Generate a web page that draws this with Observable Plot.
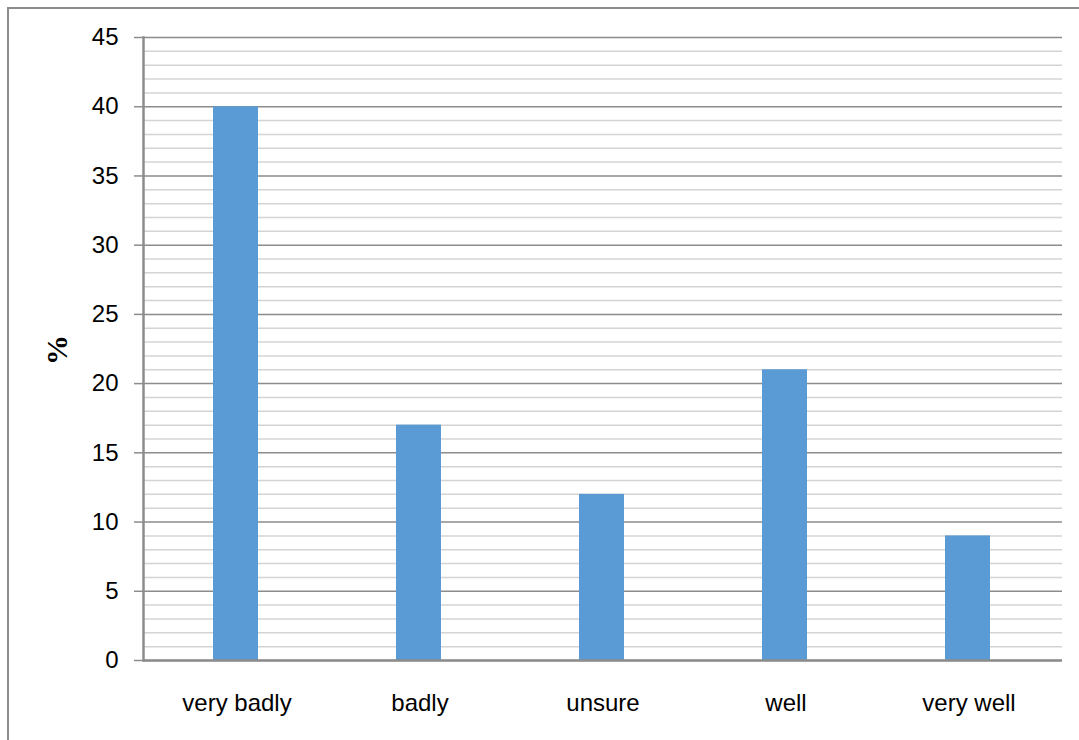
<!DOCTYPE html>
<html>
<head>
<meta charset="utf-8">
<script src="https://cdn.jsdelivr.net/npm/d3@7"></script>
<script src="https://cdn.jsdelivr.net/npm/@observablehq/plot@0.6"></script>
<style>
  html, body { margin: 0; padding: 0; background: #fff; overflow: hidden; width: 1079px; height: 740px; }
  #frame { position: absolute; left: 7px; top: 7px; width: 1200px; height: 900px; border: 2px solid #8c8c8c; box-sizing: border-box; }
  #chart { position: absolute; left: 0; top: 0; }
</style>
</head>
<body>
<div id="frame"></div>
<div id="chart"></div>
<script>
const categories = ["very badly", "badly", "unsure", "well", "very well"];
const values = [40, 17, 12, 21, 9];
const majorTicks = [0, 5, 10, 15, 20, 25, 30, 35, 40, 45];
const minorTicks = [1, 2, 3, 4, 6, 7, 8, 9, 11, 12, 13, 14, 16, 17, 18, 19, 21, 22, 23, 24, 26, 27, 28, 29, 31, 32, 33, 34, 36, 37, 38, 39, 41, 42, 43, 44];
const yLabel = "%";

const data = categories.map((c, i) => ({category: c, value: values[i]}));
const font = "'Liberation Sans', Arial, sans-serif";

const chart = Plot.plot({
  width: 1079,
  height: 740,
  marginLeft: 143,
  marginRight: 17,
  marginTop: 37,
  marginBottom: 80,
  style: {fontFamily: font, fontSize: "24px", color: "#000", background: "transparent"},
  x: {domain: categories, paddingInner: 0.755, paddingOuter: 0.3775},
  y: {domain: [0, 45]},
  marks: [
    Plot.ruleY(minorTicks, {stroke: "#d4d4d4", strokeWidth: 1.5}),
    Plot.ruleY(majorTicks, {stroke: "#8c8c8c", strokeWidth: 1.5}),
    Plot.axisY(majorTicks, {tickSize: 9, tickPadding: 16, stroke: "#8c8c8c", strokeWidth: 1.5, fill: "#000", label: null, fontSize: 24}),
    Plot.axisX({tickSize: 0, tickPadding: 33, label: null, fill: "#000", fontSize: 24, letterSpacing: "-0.3px"}),
    Plot.barY(data, {x: "category", y: "value", fill: "#5b9bd5", dx: -1}),
    Plot.frame({anchor: "left", stroke: "#8c8c8c", strokeWidth: 2.5}),
    Plot.ruleY([0], {stroke: "#8c8c8c", strokeWidth: 2.5}),
    Plot.text([yLabel], {frameAnchor: "left", dx: -86, dy: 16, rotate: -90, text: d => d, fontFamily: "'Liberation Serif', 'Times New Roman', serif", fontWeight: "bold", fontSize: 30, fill: "#000"})
  ]
});
document.getElementById("chart").appendChild(chart);
</script>
</body>
</html>
